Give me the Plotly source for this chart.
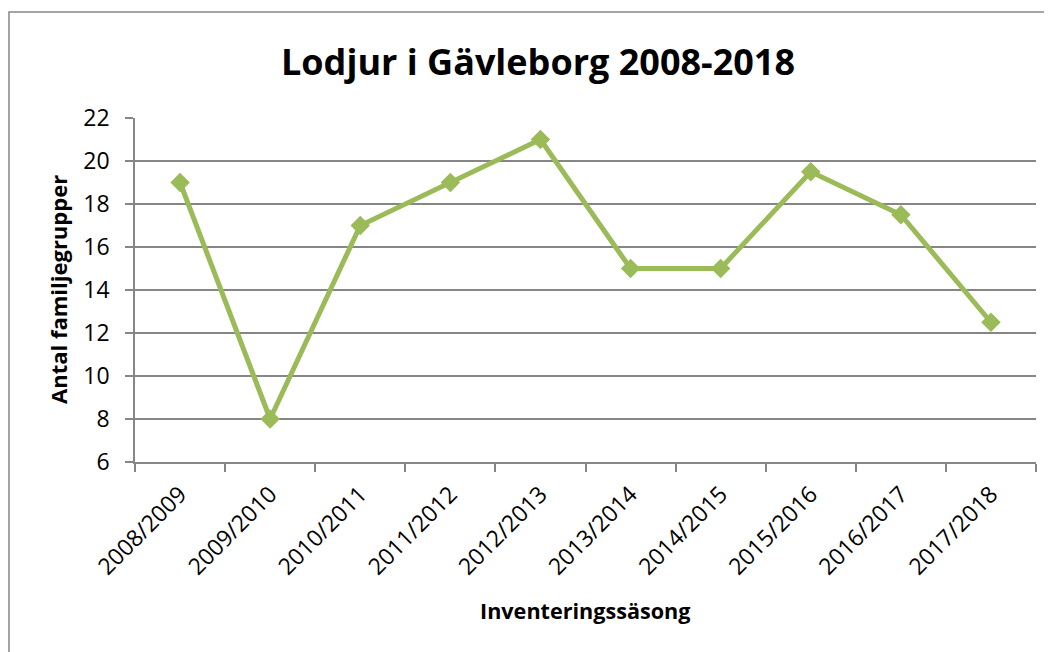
import plotly.graph_objects as go

seasons = ["2008/2009", "2009/2010", "2010/2011", "2011/2012", "2012/2013",
           "2013/2014", "2014/2015", "2015/2016", "2016/2017", "2017/2018"]
families = [19, 8, 17, 19, 21, 15, 15, 19.5, 17.5, 12.5]
y_ticks = [6, 8, 10, 12, 14, 16, 18, 20, 22]

OFF = 8  # page body margin
W, H = 1052 - OFF, 652 - OFF
ML, MT = 135 - OFF, 118 - OFF
MR, MB = 16, 190
PW, PH = W - ML - MR, H - MT - MB

def px_x(p):
    return (p - OFF - ML) / PW

def px_y(p):
    return (H - MB - (p - OFF)) / PH

GREY = "#868686"
FONT = "Open Sans"

fig = go.Figure()
fig.add_trace(go.Scatter(
    x=seasons, y=families, mode="lines+markers",
    line=dict(color="#9BBB59", width=5),
    marker=dict(symbol="diamond", size=15, color="#9BBB59"),
    showlegend=False, cliponaxis=False,
))

fig.update_layout(
    width=W, height=H,
    margin=dict(l=ML, r=MR, t=MT, b=MB, autoexpand=False),
    paper_bgcolor="white", plot_bgcolor="white",
    font=dict(family=FONT, color="black"),
    title=dict(text="<b>Lodjur i Gävleborg 2008-2018</b>",
               font=dict(size=36, family=FONT, color="black"),
               xref="container", yref="container",
               x=(538 - OFF) / W, y=1 - (62 - OFF) / H, xanchor="center", yanchor="middle"),
    xaxis=dict(type="category", tickson="boundaries", ticks="outside", ticklen=8,
               tickcolor=GREY, tickwidth=1.5, showline=True, linecolor=GREY, linewidth=1.5,
               showgrid=False, tickangle=-45, tickfont=dict(size=23, family=FONT),
               ticklabelstandoff=8,
               automargin=False, range=[-0.5, len(seasons) - 0.5]),
    yaxis=dict(range=[6, 22], tickvals=y_ticks, ticks="outside", ticklen=8,
               tickcolor=GREY, tickwidth=1.5, showline=True, linecolor=GREY, linewidth=1.5,
               showgrid=True, gridcolor=GREY, gridwidth=1.5, zeroline=False,
               ticklabelstandoff=11,
               automargin=False, tickfont=dict(size=23, family=FONT)),
    annotations=[
        dict(text="<b>Inventeringssäsong</b>", xref="paper", yref="paper",
             x=px_x(585), y=px_y(610), xanchor="center", yanchor="middle",
             showarrow=False, font=dict(size=21.6, family=FONT, color="black")),
        dict(text="<b>Antal familjegrupper</b>", xref="paper", yref="paper",
             x=px_x(58), y=px_y(290), xanchor="center", yanchor="middle",
             textangle=-90, showarrow=False, font=dict(size=22, family=FONT, color="black")),
    ],
    shapes=[
        dict(type="rect", xref="paper", yref="paper",
             x0=px_x(9), x1=px_x(1070), y0=px_y(670), y1=px_y(12),
             line=dict(color=GREY, width=1.5), fillcolor="rgba(0,0,0,0)", layer="below"),
    ],
)

fig.write_html("out.html")
